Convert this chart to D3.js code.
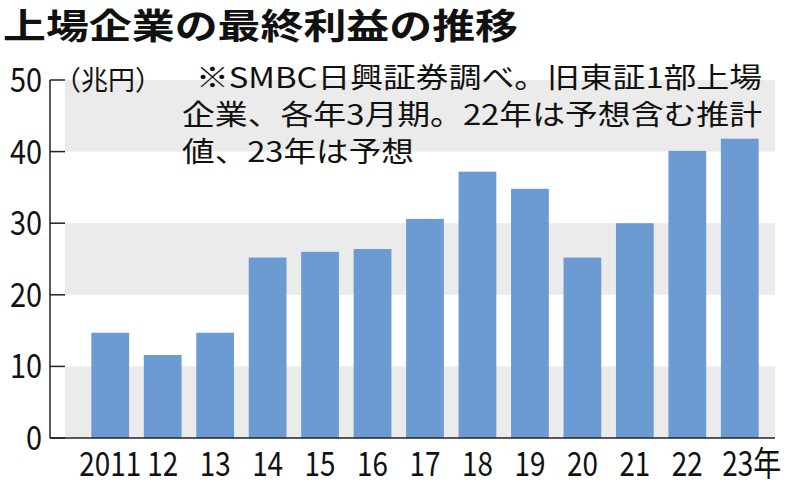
<!DOCTYPE html><html><head><meta charset="utf-8"><script src="https://cdn.jsdelivr.net/npm/d3@7"></script>
<style>body{margin:0;background:#fff}text{font-family:"Noto Sans CJK JP","Noto Sans",sans-serif}</style></head><body>
<svg id="c" width="800" height="485"></svg>
<script>
const categories=["2011","12","13","14","15","16","17","18","19","20","21","22","23年"];
const values=[14.7,11.6,14.7,25.2,26.0,26.4,30.6,37.2,34.8,25.2,30.0,40.1,41.8];
const yTicks=[0,10,20,30,40,50];
const title="上場企業の最終利益の推移";
const unit="（兆円）";
const note=["※SMBC日興証券調べ。旧東証1部上場","企業、各年3月期。22年は予想含む推計","値、23年は予想"];
const svg=d3.select("#c");
const y=d3.scaleLinear().domain([0,50]).range([438,80]);
const x=d3.scaleBand().domain(categories).range([84,766]).paddingInner(0.28).paddingOuter(0.14);
const L=50,R=775;
[[0,10],[20,30],[40,50]].forEach(b=>svg.append("rect").attr("x",L+15).attr("width",R-L-15).attr("y",y(b[1])).attr("height",y(b[0])-y(b[1])).attr("fill","#ebebeb"));
svg.selectAll(".bar").data(values).join("rect").attr("x",(d,i)=>x(categories[i])).attr("width",x.bandwidth()).attr("y",d=>y(d)).attr("height",d=>y(0)-y(d)).attr("fill","#6b9bd2");
svg.selectAll(".tk").data(yTicks).join("line").attr("x1",L).attr("x2",L+15).attr("y1",d=>y(d)).attr("y2",d=>y(d)).attr("stroke","#222").attr("stroke-width",1.5);
svg.append("line").attr("x1",L).attr("x2",L).attr("y1",y(50)).attr("y2",y(0)).attr("stroke","#222").attr("stroke-width",1.5);
svg.append("line").attr("x1",L).attr("x2",R).attr("y1",y(0)).attr("y2",y(0)).attr("stroke","#222").attr("stroke-width",1.5);
svg.selectAll(".yl").data(yTicks).join("text").attr("transform",d=>`translate(42,${y(d)+12}) scale(0.85,1)`).attr("text-anchor","end").attr("font-size",34).attr("fill","#111").text(d=>d);
svg.selectAll(".xl").data(categories).join("text").attr("transform",(d,i)=>`translate(${x(d)+x.bandwidth()/2+(i==12?12:0)},476) scale(0.82,1)`).attr("text-anchor","middle").attr("font-size",34).attr("fill","#111").text(d=>d);
svg.append("text").attr("x",3).attr("y",39).attr("font-size",35).attr("font-weight","bold").attr("fill","#111").attr("textLength",515).attr("lengthAdjust","spacingAndGlyphs").text(title);
svg.append("text").attr("x",54).attr("y",90).attr("font-size",27).attr("fill","#111").text(unit);
const nl=[[196,566],[182,580],[182,232]];
note.forEach((t,i)=>svg.append("text").attr("x",nl[i][0]).attr("y",88+i*37).attr("font-size",28).attr("fill","#111").attr("textLength",nl[i][1]).attr("lengthAdjust","spacingAndGlyphs").text(t));
</script></body></html>
